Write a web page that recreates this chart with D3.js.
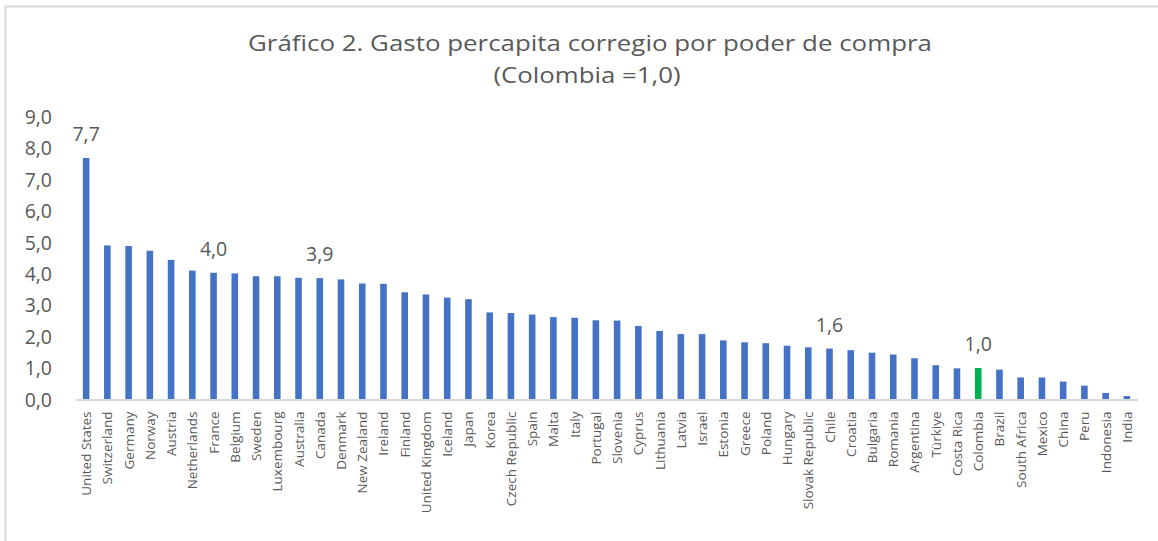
<!DOCTYPE html>
<html>
<head>
<meta charset="utf-8">
<script src="https://cdn.jsdelivr.net/npm/d3@7"></script>
<style>
  html, body { margin: 0; padding: 0; background: #fff; }
  svg { display: block; }
  text { font-family: "Open Sans", "Noto Sans", sans-serif; fill: #595959; }
</style>
</head>
<body>
<svg id="chart" width="1158" height="541"></svg>
<script>
const categories = ["United States","Switzerland","Germany","Norway","Austria","Netherlands","France","Belgium","Sweden","Luxembourg","Australia","Canada","Denmark","New Zealand","Ireland","Finland","United Kingdom","Iceland","Japan","Korea","Czech Republic","Spain","Malta","Italy","Portugal","Slovenia","Cyprus","Lithuania","Latvia","Israel","Estonia","Greece","Poland","Hungary","Slovak Republic","Chile","Croatia","Bulgaria","Romania","Argentina","Türkiye","Costa Rica","Colombia","Brazil","South Africa","Mexico","China","Peru","Indonesia","India"];
const values = [7.68,4.90,4.88,4.73,4.44,4.10,4.03,4.01,3.92,3.92,3.87,3.86,3.82,3.69,3.68,3.41,3.34,3.24,3.19,2.77,2.75,2.70,2.62,2.60,2.52,2.51,2.34,2.18,2.08,2.08,1.88,1.82,1.79,1.71,1.66,1.62,1.57,1.49,1.43,1.31,1.09,0.99,1.00,0.95,0.70,0.70,0.57,0.44,0.21,0.11];
const labeled = ["United States","France","Canada","Chile","Colombia"];
const highlight = "Colombia";
const yTicks = [0,1,2,3,4,5,6,7,8,9];
const titleLines = ["Gráfico 2. Gasto percapita corregio por poder de compra", "(Colombia =1,0)"];

const svg = d3.select("#chart");
const fmt = v => d3.format(".1f")(v).replace(".", ",");

// chart border (top and left visible)
svg.append("line").attr("x1", 5.5).attr("x2", 1158).attr("y1", 6.5).attr("y2", 6.5)
  .attr("stroke", "#d9d9d9").attr("stroke-width", 2);
svg.append("line").attr("x1", 5.5).attr("x2", 5.5).attr("y1", 6).attr("y2", 541)
  .attr("stroke", "#d9d9d9").attr("stroke-width", 2);

const x = d3.scaleBand().domain(categories).range([75.5, 1137.5]).paddingInner(0.69).paddingOuter(0.345);
const y = d3.scaleLinear().domain([0, 9]).range([399.5, 116.5]);

// title
svg.append("text").attr("x", 590).attr("y", 51).attr("text-anchor", "middle")
  .attr("font-size", 22.5).attr("textLength", 684).attr("lengthAdjust", "spacingAndGlyphs")
  .text(titleLines[0]);
svg.append("text").attr("x", 587).attr("y", 83).attr("text-anchor", "middle")
  .attr("font-size", 22.5).attr("textLength", 187).attr("lengthAdjust", "spacingAndGlyphs")
  .text(titleLines[1]);

// y axis tick labels
const yAxis = d3.axisLeft(y).tickValues(yTicks).tickFormat(fmt).tickSize(0).tickPadding(0);
const gy = svg.append("g").attr("transform", "translate(52,0)").call(yAxis);
gy.select(".domain").remove();
gy.selectAll("text").attr("font-size", 19.5).attr("fill", "#595959")
  .style("font-family", "'Open Sans', sans-serif").attr("dy", "0.35em");

// bars
svg.append("g").selectAll("rect").data(categories).join("rect")
  .attr("x", d => x(d))
  .attr("width", x.bandwidth())
  .attr("y", (d, i) => y(values[i]))
  .attr("height", (d, i) => y(0) - y(values[i]))
  .attr("fill", d => d === highlight ? "#00B050" : "#4472C4");

// x axis line and labels
const xAxis = d3.axisBottom(x).tickSize(0).tickPadding(0);
const gx = svg.append("g").attr("transform", `translate(0,${y(0)})`).call(xAxis);
gx.select(".domain").attr("stroke", "#d9d9d9").attr("stroke-width", 2);
gx.selectAll("text")
  .attr("font-size", 13.5).attr("fill", "#595959")
  .style("font-family", "'Open Sans', sans-serif")
  .attr("text-anchor", "end")
  .attr("transform", "translate(5,12) rotate(-90)")
  .attr("dy", "0").attr("y", 0).attr("x", 0);

// data labels
svg.append("g").selectAll("text").data(categories.filter(c => labeled.includes(c))).join("text")
  .attr("x", d => x(d) + x.bandwidth() / 2)
  .attr("y", d => y(values[categories.indexOf(d)]) - 17)
  .attr("text-anchor", "middle")
  .attr("font-size", 19.5)
  .attr("fill", "#404040")
  .text(d => fmt(values[categories.indexOf(d)]));
</script>
</body>
</html>
